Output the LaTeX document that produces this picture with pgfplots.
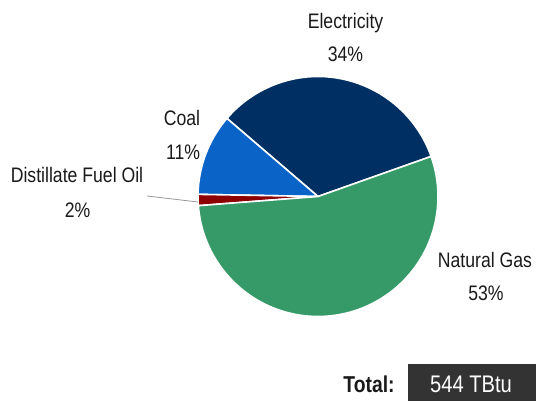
\documentclass[border=0pt]{standalone}
\usepackage{fontspec}
\setmainfont{Liberation Sans}[FakeStretch=0.84]
\usepackage{pgfplots}
\pgfplotsset{compat=1.18}

\definecolor{celec}{HTML}{003063}
\definecolor{ccoal}{HTML}{0A64C8}
\definecolor{cdist}{HTML}{8C0000}
\definecolor{cgas}{HTML}{359A68}
\definecolor{ctext}{HTML}{1A1A1A}
\definecolor{cbox}{HTML}{333333}

\tikzset{lbl/.style={anchor=base, inner sep=0pt, text=ctext,
  font=\fontsize{21bp}{24bp}\selectfont}}

% shares in percent, counter-clockwise from the Electricity/Natural Gas edge
\def\startang{19.5}

\begin{document}
\begin{tikzpicture}
\begin{axis}[
  hide axis, scale only axis,
  x=1bp, y=1bp,
  xmin=0, xmax=536, ymin=0, ymax=401,
  clip=false,
]
\addplot[draw=none] coordinates {(0,0) (536,401)};

\pgfplotsforeachungrouped \v/\c in {33.3/celec, 11.0/ccoal, 1.5/cdist, 54.2/cgas}{%
  \pgfmathsetmacro\endang{\startang+3.6*\v}%
  \edef\temp{\noexpand\fill[\c, draw=white, line width=1.6bp]
    (axis cs:318,204.5) -- ++(\startang:120bp)
    arc[start angle=\startang, end angle=\endang, radius=120bp] -- cycle;}%
  \temp
  \let\startang\endang
}

% leader line for the small slice
\draw[gray!80, line width=0.8bp] (axis cs:147,205) -- (axis cs:198,199);

\node[lbl] at (axis cs:345.5,373) {Electricity};
\node[lbl] at (axis cs:345.5,340) {34\%};
\node[lbl] at (axis cs:182,276) {Coal};
\node[lbl] at (axis cs:183,242) {11\%};
\node[lbl] at (axis cs:77,219) {Distillate Fuel Oil};
\node[lbl] at (axis cs:77.5,184) {2\%};
\node[lbl] at (axis cs:485,134) {Natural Gas};
\node[lbl] at (axis cs:486,101) {53\%};

% total box
\fill[cbox] (axis cs:408,0) rectangle (axis cs:536,37);
\node[lbl, font=\fontsize{23bp}{26bp}\selectfont\bfseries] at (axis cs:369,9) {Total:};
\node[lbl, text=white, font=\fontsize{24bp}{27bp}\selectfont] at (axis cs:471,9) {544 TBtu};
\end{axis}
\end{tikzpicture}
\end{document}
